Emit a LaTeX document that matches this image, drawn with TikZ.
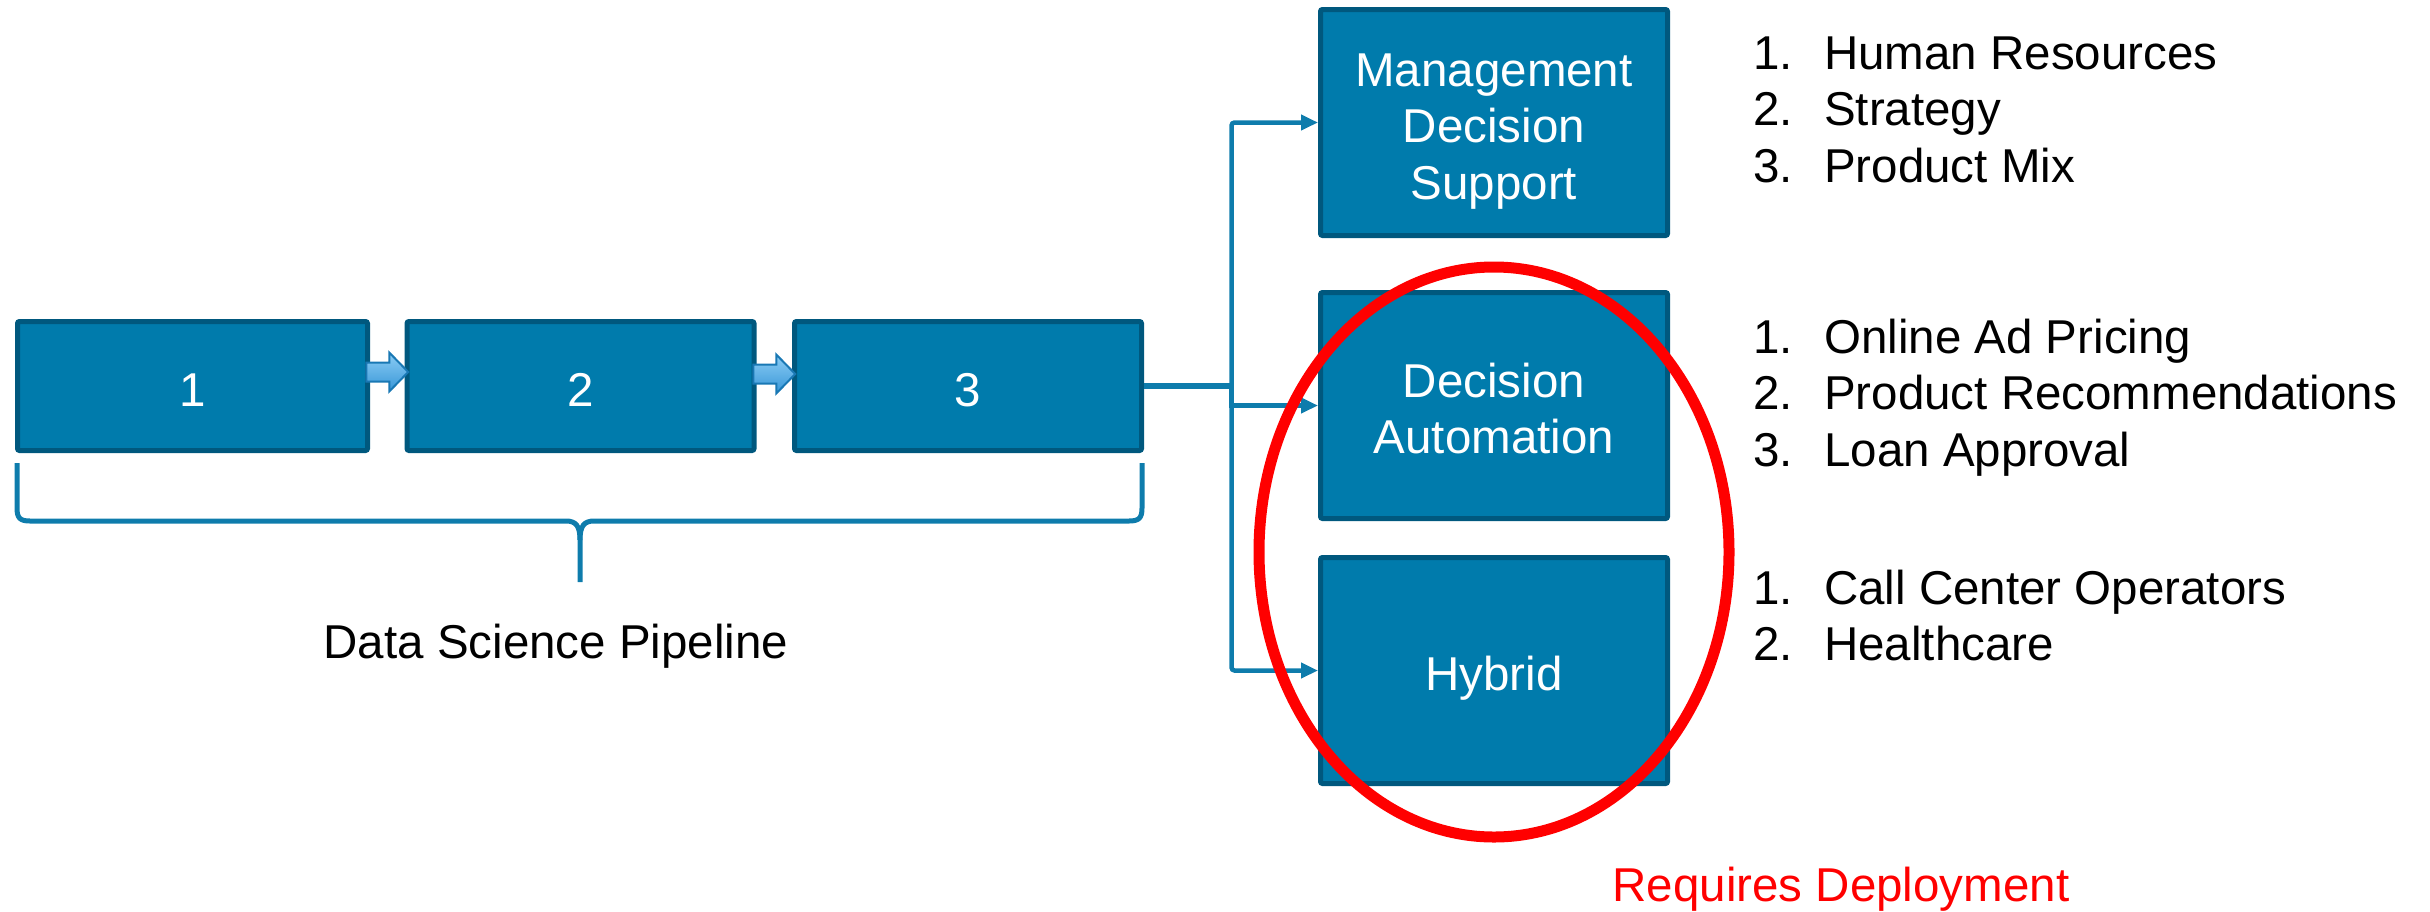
\documentclass[tikz,border=0pt]{standalone}
\usepackage{fontspec}
\setmainfont{Liberation Sans}
\usetikzlibrary{calc,arrows.meta}
\definecolor{boxfill}{RGB}{0,123,172}
\definecolor{boxline}{RGB}{0,88,126}
\definecolor{connc}{RGB}{14,124,172}
\definecolor{arrtop}{RGB}{140,205,245}
\definecolor{arrbot}{RGB}{55,150,215}
\definecolor{arrline}{RGB}{25,120,180}
\definecolor{hired}{RGB}{255,0,0}
\newcommand{\bigfont}{\fontsize{47.5}{56.5}\selectfont}
\newcommand{\capbox}[2]{\raisebox{0pt}[#1][0pt]{\begin{tabular}[b]{@{}c@{}}#2\end{tabular}}}
\begin{document}
\begin{tikzpicture}[x=1pt,y=-1pt,
  bluebox/.style={draw=boxline, fill=boxfill, line width=5pt, rounded corners=2pt,
    text=white, font=\bigfont, inner sep=0pt, minimum width=347pt, minimum height=226pt},
  pipebox/.style={bluebox, minimum height=129pt},
  conn/.style={draw=connc, line width=4.5pt},
  tip/.style={-{Triangle[length=17pt,width=15pt]}},
  blockarrow/.style={draw=arrline, line width=2pt, line join=miter,
    top color=arrtop, bottom color=arrbot},
  listtext/.style={font=\bigfont, inner sep=0pt, anchor=base west},
  plaintext/.style={font=\bigfont, inner sep=0pt, anchor=base},
  bracepath/.style={draw=connc, line width=5pt},
  highlight/.style={draw=hired, line width=11pt}]
\useasboundingbox (0,0) rectangle (2430,911);

% pipeline
\node[pipebox, minimum width=350pt] (b1) at (192.5,386) {\capbox{40pt}{1}};
\node[pipebox] (b2) at (580.5,386) {\capbox{40pt}{2}};
\node[pipebox] (b3) at (968,386) {\capbox{40pt}{3}};
\coordinate (m12) at ($(b1.east)!0.5!(b2.west)+(0,-14)$);
\coordinate (m23) at ($(b2.east)!0.5!(b3.west)+(0,-12)$);
\foreach \m in {m12,m23}
  \path[blockarrow, shift={(\m)}] (-21,-9.5) -- (2,-9.5) -- (2,-19.5) -- (21,0)
    -- (2,19.5) -- (2,9.5) -- (-21,9.5) -- cycle;

% brace
\draw[bracepath] (17,463) -- (17,508) .. controls (17,518) and (20,521) .. (30,521)
  -- (566,521) .. controls (576,521) and (580,526) .. (580,540) -- (580,582);
\draw[bracepath] (1142,463) -- (1142,508) .. controls (1142,518) and (1139,521) .. (1129,521)
  -- (594,521) .. controls (584,521) and (580,526) .. (580,540);
\node[plaintext] (dsp) at (556,658) {Data Science Pipeline};

% decision boxes
\node[bluebox] (mds) at (1494,122.5) {\capbox{153pt}{Management\\Decision\\Support}};
\node[bluebox] (da) at (1494,405.5) {\capbox{96.5pt}{Decision\\Automation}};
\node[bluebox] (hyb) at (1494,670.5) {\capbox{40pt}{Hybrid}};

% connectors
\coordinate (bus) at ($(b3.east)+(87.5,0)$);
\draw[conn, line width=6.5pt] (b3.east) -- (bus);
\draw[conn, tip, rounded corners=3pt] (bus) |- (mds.west);
\draw[conn, tip] (bus) |- (da.west);
\draw[conn, tip, rounded corners=3pt] (bus) |- (hyb.west);

% lists
\node[listtext] (l1) at (1753,69) {\begin{tabular}[t]{@{}p{71pt}@{}l@{}}1.&Human Resources\\2.&Strategy\\3.&Product Mix\end{tabular}};
\node[listtext] (l2) at (1753,353) {\begin{tabular}[t]{@{}p{71pt}@{}l@{}}1.&Online Ad Pricing\\2.&Product Recommendations\\3.&Loan Approval\end{tabular}};
\node[listtext] (l3) at (1753,604) {\begin{tabular}[t]{@{}p{71pt}@{}l@{}}1.&Call Center Operators\\2.&Healthcare\end{tabular}};

% highlight
\draw[highlight] (1494,552) ellipse [x radius=235, y radius=285];
\node[plaintext, text=hired] (req) at (1841,901) {Requires Deployment};
\end{tikzpicture}
\end{document}
